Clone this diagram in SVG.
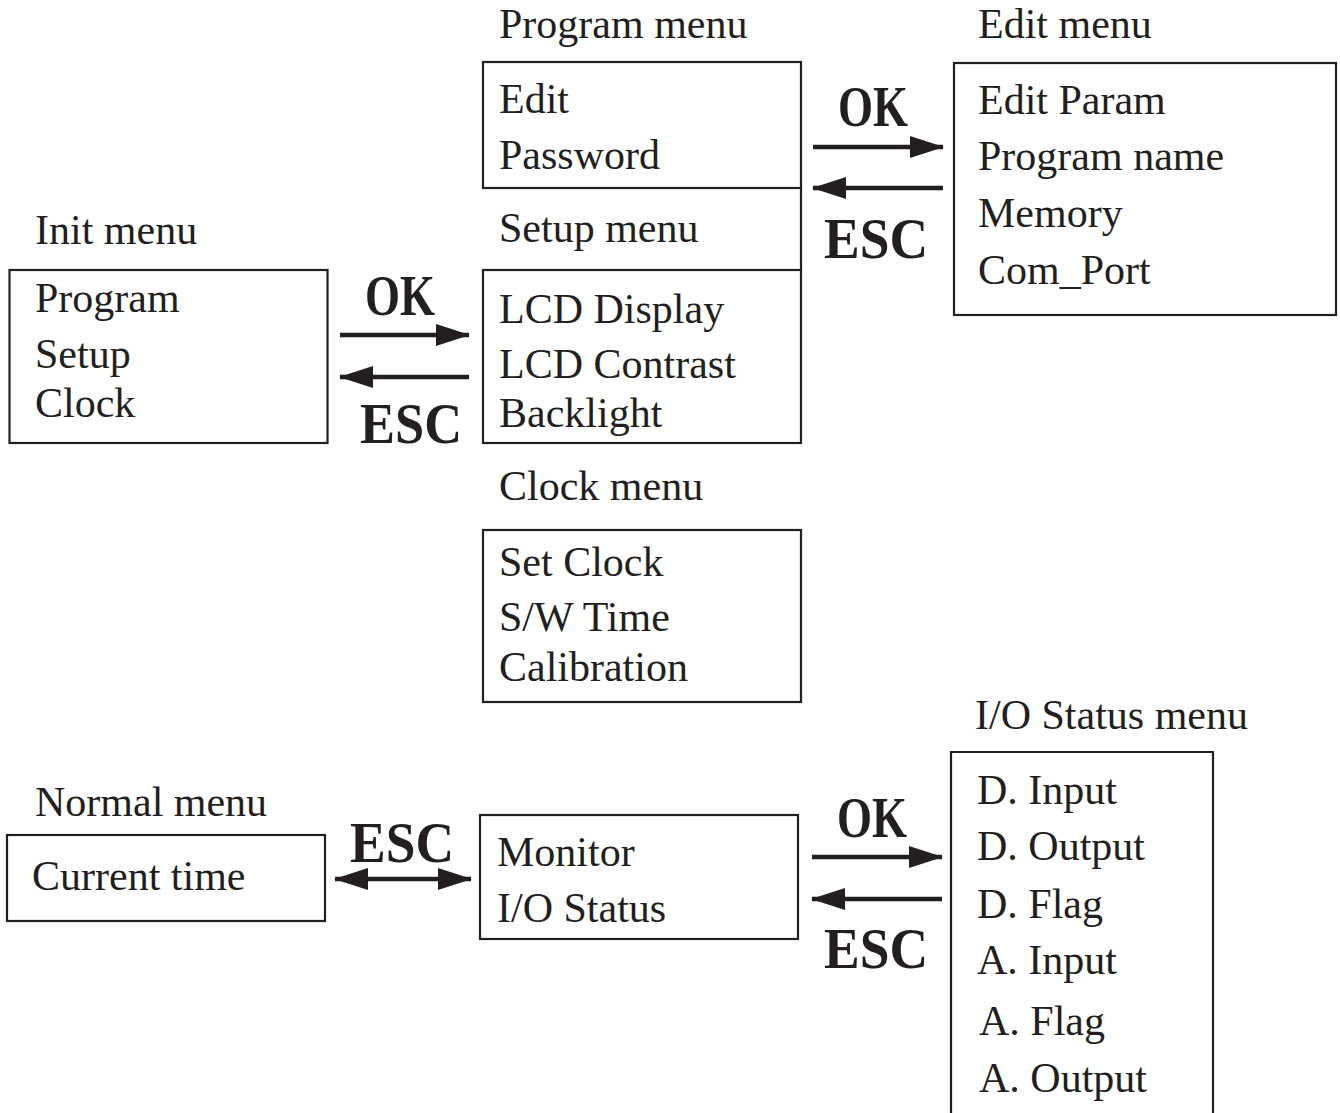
<svg xmlns="http://www.w3.org/2000/svg" width="1340" height="1113" viewBox="0 0 1340 1113">
<style>
.box{fill:#fff;stroke:#231f20;stroke-width:2.2}
.t{font-family:"Liberation Serif","Times New Roman",serif;font-size:42px;fill:#231f20}
.b{font-family:"Liberation Serif","Times New Roman",serif;font-size:56px;font-weight:bold;fill:#231f20;text-anchor:middle}
.ar{stroke:#231f20;stroke-width:4.5;fill:none}
</style>
<defs>
<marker id="ah" markerUnits="userSpaceOnUse" markerWidth="34" markerHeight="22" refX="33" refY="11" orient="auto-start-reverse">
<path d="M0,0 L34,11 L0,22 Z" fill="#231f20"/>
</marker>
</defs>
<rect width="1340" height="1113" fill="#fff"/>

<g id="init">
<text class="t" x="35" y="244">Init menu</text>
<rect class="box" x="9.5" y="270" width="318" height="173"/>
<text class="t" x="35" y="312">Program</text>
<text class="t" x="35" y="368">Setup</text>
<text class="t" x="35" y="417">Clock</text>
</g>

<g id="program">
<text class="t" x="499" y="38">Program menu</text>
<rect class="box" x="483" y="62" width="318" height="126"/>
<text class="t" x="499" y="113">Edit</text>
<text class="t" x="499" y="169">Password</text>
<line x1="801" y1="188" x2="801" y2="270" stroke="#231f20" stroke-width="2.2"/>
</g>

<g id="setup">
<text class="t" x="499" y="242">Setup menu</text>
<rect class="box" x="483" y="270" width="318" height="173"/>
<text class="t" x="499" y="323">LCD Display</text>
<text class="t" x="499" y="378">LCD Contrast</text>
<text class="t" x="499" y="427">Backlight</text>
</g>

<g id="clock">
<text class="t" x="499" y="500">Clock menu</text>
<rect class="box" x="483" y="530" width="318" height="172"/>
<text class="t" x="499" y="576">Set Clock</text>
<text class="t" x="499" y="631">S/W Time</text>
<text class="t" x="499" y="681">Calibration</text>
</g>

<g id="edit">
<text class="t" x="978" y="38">Edit menu</text>
<rect class="box" x="954" y="63" width="382" height="252"/>
<text class="t" x="978" y="114">Edit Param</text>
<text class="t" x="978" y="170">Program name</text>
<text class="t" x="978" y="227">Memory</text>
<text class="t" x="978" y="284">Com_Port</text>
</g>

<g id="normal">
<text class="t" x="35" y="816">Normal menu</text>
<rect class="box" x="7" y="835" width="318" height="86"/>
<text class="t" x="32" y="890">Current time</text>
</g>

<g id="monitor">
<rect class="box" x="480" y="815" width="318" height="124"/>
<text class="t" x="497" y="866">Monitor</text>
<text class="t" x="497" y="922">I/O Status</text>
</g>

<g id="iostatus">
<text class="t" x="975" y="729">I/O Status menu</text>
<path class="box" d="M951,1114 V752 H1213 V1114"/>
<text class="t" x="977" y="804">D. Input</text>
<text class="t" x="977" y="860">D. Output</text>
<text class="t" x="977" y="918">D. Flag</text>
<text class="t" x="977" y="974">A. Input</text>
<text class="t" x="979" y="1035">A. Flag</text>
<text class="t" x="979" y="1092">A. Output</text>
</g>

<g id="connectors">
<line class="ar" x1="340" y1="335" x2="469" y2="335" marker-end="url(#ah)"/>
<line class="ar" x1="469" y1="377" x2="340" y2="377" marker-end="url(#ah)"/>
<text class="b" x="400" y="315" textLength="70" lengthAdjust="spacingAndGlyphs">OK</text>
<text class="b" x="411" y="443" textLength="102" lengthAdjust="spacingAndGlyphs">ESC</text>

<line class="ar" x1="813" y1="147" x2="943" y2="147" marker-end="url(#ah)"/>
<line class="ar" x1="943" y1="188" x2="813" y2="188" marker-end="url(#ah)"/>
<text class="b" x="873" y="126" textLength="70" lengthAdjust="spacingAndGlyphs">OK</text>
<text class="b" x="876" y="258" textLength="104" lengthAdjust="spacingAndGlyphs">ESC</text>

<line class="ar" x1="335" y1="879" x2="471" y2="879" marker-start="url(#ah)" marker-end="url(#ah)"/>
<text class="b" x="402" y="862" textLength="104" lengthAdjust="spacingAndGlyphs">ESC</text>

<line class="ar" x1="812" y1="857" x2="942" y2="857" marker-end="url(#ah)"/>
<line class="ar" x1="942" y1="899" x2="812" y2="899" marker-end="url(#ah)"/>
<text class="b" x="872" y="837" textLength="70" lengthAdjust="spacingAndGlyphs">OK</text>
<text class="b" x="876" y="968" textLength="104" lengthAdjust="spacingAndGlyphs">ESC</text>
</g>
</svg>
